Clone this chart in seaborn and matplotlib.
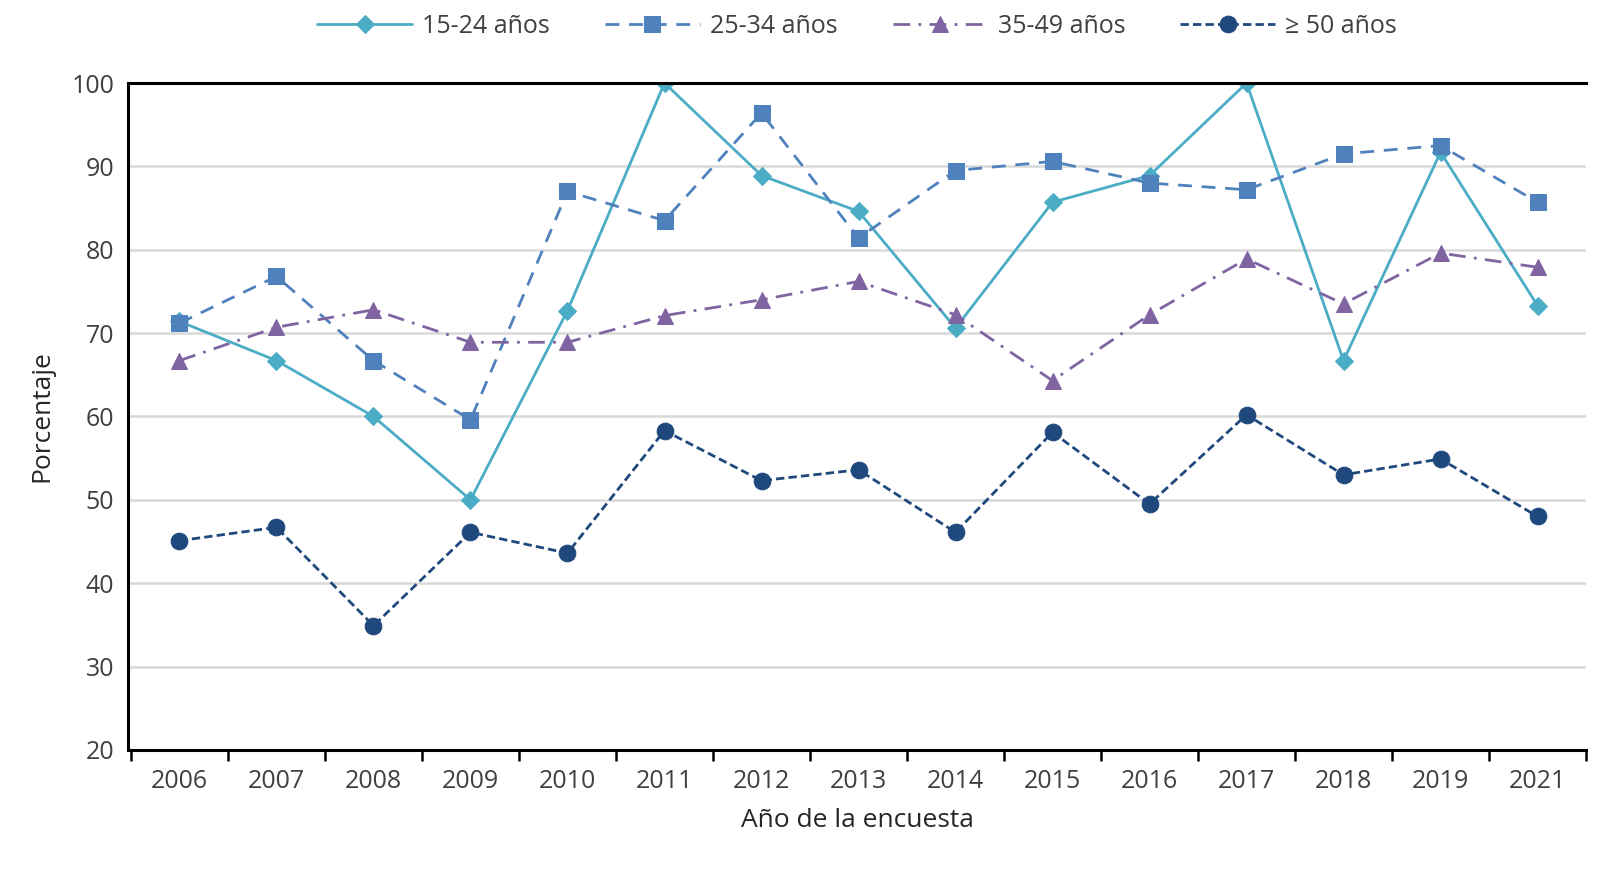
import matplotlib
matplotlib.use("Agg")
import matplotlib.pyplot as plt
import seaborn as sns
import numpy as np
import pandas as pd

years = list(range(2006, 2022))
years = [y for y in years if y != 2020]
g1524 = [71.4, 66.7, 60.0, 50.0, 72.7, 100.0, 88.9, 84.6, 70.6, 85.7, 88.9, 100.0, 66.7, 91.7, 73.3]
g2534 = [71.2, 76.8, 66.7, 59.6, 87.0, 83.5, 96.4, 81.4, 89.5, 90.6, 88.0, 87.2, 91.5, 92.5, 85.7]
g3549 = [66.7, 70.7, 72.8, 68.9, 68.9, 72.1, 74.0, 76.2, 72.2, 64.3, 72.2, 78.9, 73.5, 79.6, 77.9]
g50 = [45.1, 46.7, 34.9, 46.1, 43.6, 58.3, 52.3, 53.6, 46.1, 58.1, 49.5, 60.2, 53.0, 54.9, 48.0]
labels = ["15-24 años", "25-34 años", "35-49 años", "≥ 50 años"]

sns.set_theme(style="white")
plt.rcParams['font.family'] = ['Open Sans', 'DejaVu Sans']
fig = plt.figure(figsize=(16.11, 8.74), dpi=100)
ax = fig.add_axes([0.0795, 0.142, 0.905, 0.763])

pos = np.arange(len(years))
specs = [
    (g1524, "#4BACC6", "-", "D", 9),
    (g2534, "#4F81BD", (0, (5, 3.5)), "s", 12),
    (g3549, "#8064A2", (0, (6, 3, 1, 3)), "^", 11),
    (g50, "#1F497D", (0, (3, 1.5)), "o", 12),
]
for (vals, c, ls, m, ms), lab in zip(specs, labels):
    df = pd.DataFrame({"x": pos, "y": vals})
    sns.lineplot(data=df, x="x", y="y", ax=ax, color=c, linestyle=ls, marker=m,
                 markersize=ms, markeredgecolor=c, linewidth=2, label=lab)

ax.set_ylim(20, 100)
ax.set_yticks(range(20, 101, 10))
ax.set_xlim(-0.53, len(years) - 0.5)
ax.set_xticks(pos)
ax.set_xticklabels([str(y) for y in years])
ax.set_xticks(np.arange(-0.5, len(years), 1), minor=True)
ax.tick_params(axis='x', which='major', length=0, pad=14, labelsize=18, labelcolor="#404040")
ax.tick_params(axis='x', which='minor', length=8, width=1.8, direction='out', bottom=True, color='black')
ax.tick_params(axis='y', length=0, pad=10, labelsize=18, labelcolor="#404040")
ax.grid(axis='y', color='#d9d9d9', linewidth=1.8)
for s in ['left', 'bottom', 'top']:
    ax.spines[s].set_color('black')
    ax.spines[s].set_linewidth(2.2)
ax.spines['right'].set_visible(False)
ax.set_xlabel("Año de la encuesta", fontsize=19, labelpad=10)
ax.set_ylabel("Porcentaje", fontsize=19, labelpad=12)
ax.legend(loc='center', bbox_to_anchor=(0.5, 1.085), ncol=4, frameon=False,
          fontsize=18, handlelength=3.8, handletextpad=0.4, columnspacing=2.2,
          labelcolor="#404040")
fig.savefig("out.png", dpi=100, facecolor="white")
